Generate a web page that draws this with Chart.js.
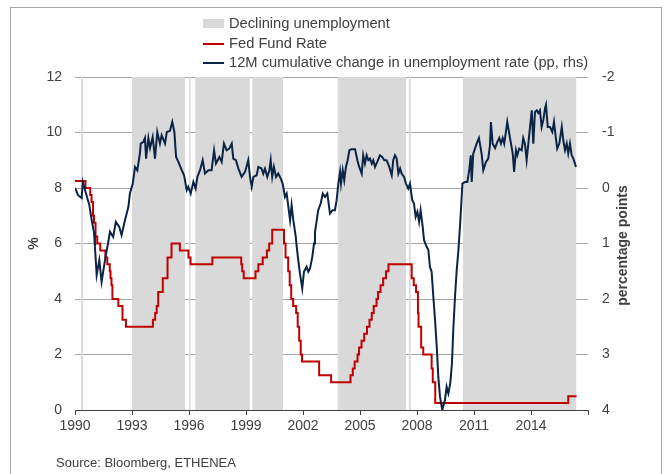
<!DOCTYPE html>
<html>
<head>
<meta charset="utf-8">
<script src="https://cdn.jsdelivr.net/npm/chart.js@4.4.1/dist/chart.umd.min.js"></script>
<style>
  body { margin: 0; background: #fff; font-family: "Liberation Sans", Arial, sans-serif; }
  #wrap { position: relative; width: 665px; height: 474px; overflow: hidden; }
  #frame { position: absolute; left: 10px; top: 7px; width: 652px; height: 480px; border: 1px solid #a6a6a6; box-sizing: border-box; }
  #chart { position: absolute; left: 0; top: 0; }
  .legend { position: absolute; left: 203px; font-size: 14.7px; color: #404040; line-height: 19.5px; }
  .legend div { position: relative; padding-left: 26px; height: 19.5px; white-space: nowrap; }
  .legend i { position: absolute; left: 0; width: 21px; }
  .box { top: 5px; height: 9px; background: #d9d9d9; }
  .ln { top: 9px; height: 2px; }
  #source { position: absolute; left: 56px; top: 455px; font-size: 13px; color: #404040; }
</style>
</head>
<body>
<div id="wrap">
  <div id="frame"></div>
  <canvas id="chart" width="665" height="474"></canvas>
  <div class="legend" style="top: 14px;">
    <div><i class="box"></i>Declining unemployment</div>
    <div><i class="ln" style="background:#c00000"></i>Fed Fund Rate</div>
    <div><i class="ln" style="background:#0b2445"></i>12M cumulative change in unemployment rate (pp, rhs)</div>
  </div>
  <div id="source">Source: Bloomberg, ETHENEA</div>
</div>
<script>
// Periods of declining unemployment (decimal years, start/end)
const declineStart = [1990.33, 1993.0, 1996.0, 1996.33, 1999.33, 2003.83, 2007.58, 2010.42]
const declineEnd   = [1990.42, 1995.79, 1996.08, 1999.2, 2000.95, 2007.42, 2007.67, 2016.38]

// Fed fund target rate, value from each date on (%)
const fedDates = [1990.0, 1990.55, 1990.8, 1990.87, 1990.95, 1991.0, 1991.08, 1991.17, 1991.33, 1991.6,
  1991.7, 1991.83, 1991.87, 1991.92, 1991.97, 1992.28, 1992.5, 1992.68, 1994.1, 1994.22,
  1994.3, 1994.38, 1994.62, 1994.87, 1995.08, 1995.52, 1995.97, 1996.08, 1997.23, 1998.75,
  1998.8, 1998.88, 1999.5, 1999.65, 1999.88, 2000.1, 2000.22, 2000.38, 2001.0, 2001.08,
  2001.22, 2001.3, 2001.38, 2001.48, 2001.64, 2001.72, 2001.8, 2001.88, 2001.95, 2002.85,
  2003.48, 2004.5, 2004.62, 2004.72, 2004.87, 2004.95, 2005.08, 2005.22, 2005.37, 2005.5,
  2005.62, 2005.72, 2005.87, 2005.95, 2006.08, 2006.22, 2006.37, 2006.5, 2007.72, 2007.83,
  2007.95, 2008.05, 2008.08, 2008.22, 2008.33, 2008.77, 2008.83, 2008.96, 2015.96, 2016.4]
const fedRates = [8.25, 8.0, 7.75, 7.5, 7.0, 6.75, 6.25, 6.0, 5.75, 5.5,
  5.25, 5.0, 4.75, 4.5, 4.0, 3.75, 3.25, 3.0, 3.25, 3.5,
  3.75, 4.25, 4.75, 5.5, 6.0, 5.75, 5.5, 5.25, 5.5, 5.25,
  5.0, 4.75, 5.0, 5.25, 5.5, 5.75, 6.0, 6.5, 6.0, 5.5,
  5.0, 4.5, 4.0, 3.75, 3.5, 3.0, 2.5, 2.0, 1.75, 1.25,
  1.0, 1.25, 1.5, 1.75, 2.0, 2.25, 2.5, 2.75, 3.0, 3.25,
  3.5, 3.75, 4.0, 4.25, 4.5, 4.75, 5.0, 5.25, 4.75, 4.5,
  4.25, 3.5, 3.0, 2.25, 2.0, 1.5, 1.0, 0.25, 0.5, 0.5]

// 12M cumulative change in unemployment rate (pp)
const unempDates = [1990.0, 1990.16, 1990.35, 1990.41, 1990.53, 1990.75, 1990.89, 1991.0, 1991.05, 1991.14,
  1991.28, 1991.4, 1991.58, 1991.67, 1991.74, 1991.84, 1992.01, 1992.15, 1992.33, 1992.45,
  1992.63, 1992.72, 1992.81, 1992.89, 1993.04, 1993.16, 1993.28, 1993.42, 1993.46, 1993.6,
  1993.68, 1993.74, 1993.86, 1993.95, 1994.09, 1994.21, 1994.33, 1994.47, 1994.56, 1994.74,
  1994.83, 1995.0, 1995.12, 1995.23, 1995.32, 1995.44, 1995.62, 1995.74, 1995.88, 1995.96,
  1996.09, 1996.23, 1996.35, 1996.44, 1996.58, 1996.72, 1996.84, 1997.02, 1997.19, 1997.32,
  1997.42, 1997.6, 1997.72, 1997.84, 1997.98, 1998.12, 1998.25, 1998.33, 1998.47, 1998.6,
  1998.77, 1998.95, 1999.12, 1999.21, 1999.3, 1999.39, 1999.56, 1999.65, 1999.82, 1999.91,
  2000.0, 2000.12, 2000.23, 2000.3, 2000.38, 2000.47, 2000.58, 2000.7, 2000.83, 2000.93,
  2001.05, 2001.14, 2001.23, 2001.32, 2001.4, 2001.49, 2001.62, 2001.67, 2001.75, 2001.84,
  2001.96, 2002.05, 2002.19, 2002.28, 2002.37, 2002.49, 2002.58, 2002.63, 2002.8, 2002.93,
  2003.04, 2003.16, 2003.28, 2003.42, 2003.56, 2003.68, 2003.77, 2003.86, 2003.95, 2004.0,
  2004.09, 2004.17, 2004.26, 2004.35, 2004.44, 2004.56, 2004.74, 2004.86, 2004.96, 2005.09,
  2005.17, 2005.26, 2005.35, 2005.44, 2005.53, 2005.62, 2005.7, 2005.79, 2005.91, 2006.05,
  2006.17, 2006.28, 2006.4, 2006.54, 2006.67, 2006.75, 2006.84, 2006.93, 2007.02, 2007.11,
  2007.19, 2007.32, 2007.42, 2007.54, 2007.63, 2007.75, 2007.84, 2007.93, 2008.02, 2008.11,
  2008.19, 2008.3, 2008.37, 2008.51, 2008.6, 2008.68, 2008.77, 2008.86, 2008.95, 2009.04,
  2009.12, 2009.21, 2009.33, 2009.47, 2009.56, 2009.65, 2009.75, 2009.84, 2009.91, 2010.0,
  2010.09, 2010.18, 2010.28, 2010.39, 2010.53, 2010.65, 2010.75, 2010.83, 2010.88, 2010.96,
  2011.14, 2011.26, 2011.4, 2011.49, 2011.63, 2011.75, 2011.84, 2011.89, 2011.98, 2012.11,
  2012.23, 2012.33, 2012.42, 2012.51, 2012.59, 2012.68, 2012.75, 2012.84, 2012.93, 2013.04,
  2013.11, 2013.21, 2013.28, 2013.38, 2013.51, 2013.59, 2013.68, 2013.77, 2013.86, 2013.95,
  2014.04, 2014.12, 2014.21, 2014.3, 2014.38, 2014.47, 2014.56, 2014.65, 2014.74, 2014.79,
  2014.88, 2015.0, 2015.12, 2015.21, 2015.3, 2015.38, 2015.49, 2015.62, 2015.7, 2015.79,
  2015.88, 2015.96, 2016.05, 2016.14, 2016.23, 2016.37]
const unempChange = [0.0, 0.13, 0.18, -0.11, 0.04, 0.3, 0.6, 0.8, 1.06, 1.57,
  1.3, 1.69, 1.3, 1.12, 1.0, 0.79, 0.88, 0.61, 0.7, 0.85,
  0.58, 0.46, 0.34, 0.1, -0.08, -0.38, -0.32, -0.63, -0.8, -0.83,
  -0.9, -0.53, -0.9, -0.72, -0.92, -0.53, -1.01, -0.8, -0.95, -0.8,
  -1.01, -1.03, -1.19, -1.01, -0.56, -0.47, -0.32, -0.23, 0.04, -0.02,
  0.1, -0.11, 0.01, -0.2, -0.32, -0.5, -0.26, -0.32, -0.32, -0.68,
  -0.44, -0.56, -0.47, -0.8, -0.68, -0.71, -0.8, -0.53, -0.5, -0.35,
  -0.2, -0.29, -0.5, -0.2, -0.02, -0.2, -0.23, -0.38, -0.35, -0.26,
  -0.35, -0.2, -0.32, -0.5, -0.2, -0.38, -0.2, -0.26, -0.17, -0.08,
  0.16, 0.1, 0.34, 0.58, 0.31, 0.58, 0.88, 1.06, 1.3, 1.54,
  1.81, 1.51, 1.42, 1.51, 1.45, 1.24, 1.0, 0.8, 0.4, 0.28,
  0.1, 0.16, 0.1, 0.46, 0.4, 0.4, 0.22, -0.08, -0.29, -0.08,
  -0.32, -0.14, -0.38, -0.5, -0.68, -0.7, -0.7, -0.5, -0.38, -0.26,
  -0.59, -0.44, -0.59, -0.5, -0.53, -0.44, -0.5, -0.38, -0.47, -0.59,
  -0.56, -0.5, -0.5, -0.38, -0.23, -0.5, -0.59, -0.53, -0.26, -0.35,
  -0.26, -0.2, -0.08, 0.01, -0.08, 0.22, 0.28, 0.52, 0.43, 0.61,
  0.4, 0.7, 0.94, 1.06, 1.12, 1.42, 1.51, 1.96, 2.38, 2.86,
  3.4, 3.76, 4.0, 3.82, 3.58, 3.7, 3.52, 3.16, 2.56, 1.96,
  1.48, 1.12, 0.6, -0.08, -0.11, -0.11, -0.32, -0.59, -0.11, -0.62,
  -0.8, -0.9, -0.62, -0.32, -0.47, -0.53, -0.77, -1.19, -0.8, -0.72,
  -0.83, -0.9, -0.8, -0.9, -0.8, -1.01, -1.19, -1.01, -0.83, -0.62,
  -0.29, -0.68, -0.59, -0.71, -0.68, -0.9, -0.8, -0.5, -0.8, -1.1,
  -1.4, -0.8, -1.37, -1.4, -1.35, -1.4, -1.1, -1.23, -1.44, -1.5,
  -1.1, -1.1, -1.01, -1.19, -0.92, -0.71, -0.8, -1.1, -0.86, -0.68,
  -0.8, -0.62, -0.8, -0.59, -0.53, -0.38]

const textColor = '#404040'
const gridColor = '#a6a6a6'

// grey bands behind the lines
const shadingPlugin = {
  id: 'shading',
  beforeDatasetsDraw(chart) {
    const { ctx, chartArea, scales } = chart
    ctx.save()
    ctx.fillStyle = '#d9d9d9'
    declineStart.forEach((start, i) => {
      const x0 = scales.x.getPixelForValue(start)
      const x1 = scales.x.getPixelForValue(declineEnd[i])
      ctx.fillRect(x0, chartArea.top, x1 - x0, chartArea.bottom - chartArea.top)
    })
    ctx.restore()
  }
}

// right axis title reads bottom-to-top like the left one
const rightTitlePlugin = {
  id: 'rightTitle',
  afterDraw(chart) {
    const { ctx, chartArea } = chart
    ctx.save()
    ctx.translate(623, (chartArea.top + chartArea.bottom) / 2 + 2)
    ctx.rotate(-Math.PI / 2)
    ctx.font = 'bold 14px "Liberation Sans", Arial, sans-serif'
    ctx.fillStyle = textColor
    ctx.textAlign = 'center'
    ctx.textBaseline = 'middle'
    ctx.fillText('percentage points', 0, 0)
    ctx.restore()
  }
}

const ctx = document.getElementById('chart').getContext('2d')
new Chart(ctx, {
  type: 'line',
  data: {
    datasets: [
      {
        label: '12M cumulative change in unemployment rate (pp, rhs)',
        data: unempDates.map((d, i) => ({ x: d, y: unempChange[i] })),
        yAxisID: 'y1',
        borderColor: '#0b2445',
        borderWidth: 2,
        pointRadius: 0,
        order: 0
      },
      {
        label: 'Fed Fund Rate',
        data: fedDates.map((d, i) => ({ x: d, y: fedRates[i] })),
        yAxisID: 'y',
        stepped: 'before',
        borderColor: '#c00000',
        borderWidth: 2,
        pointRadius: 0,
        order: 1
      }
    ]
  },
  options: {
    responsive: false,
    animation: false,
    devicePixelRatio: 1,
    layout: { padding: { top: 77, left: 0, right: 0, bottom: 0 } },
    plugins: {
      legend: { display: false },
      tooltip: { enabled: false }
    },
    scales: {
      x: {
        type: 'linear',
        min: 1990,
        max: 2017,
        afterFit: (scale) => { scale.height = 64 },
        ticks: {
          stepSize: 3,
          autoSkip: false,
          maxRotation: 0,
          padding: 3,
          color: textColor,
          font: { family: '"Liberation Sans", Arial, sans-serif', size: 14 },
          callback: (value) => value === 2017 ? '' : String(value)
        },
        grid: { drawOnChartArea: false, drawTicks: true, tickLength: 5, color: textColor },
        border: { display: true, color: textColor, width: 1 }
      },
      y: {
        position: 'left',
        min: 0,
        max: 12,
        afterFit: (scale) => { scale.width = 75 },
        ticks: {
          stepSize: 2,
          padding: 13,
          color: textColor,
          font: { family: '"Liberation Sans", Arial, sans-serif', size: 14 }
        },
        grid: { color: gridColor, drawTicks: false },
        border: { display: false },
        title: {
          display: true,
          text: '%',
          color: textColor,
          font: { family: '"Liberation Sans", Arial, sans-serif', size: 14, weight: 'bold' },
          padding: { top: 26, bottom: 0 }
        }
      },
      y1: {
        position: 'right',
        min: -2,
        max: 4,
        reverse: true,
        afterFit: (scale) => { scale.width = 77 },
        ticks: {
          stepSize: 1,
          padding: 14,
          color: textColor,
          font: { family: '"Liberation Sans", Arial, sans-serif', size: 14 },
          callback: (value) => String(value)
        },
        grid: { display: false, drawTicks: false },
        border: { display: false }
      }
    }
  },
  plugins: [shadingPlugin, rightTitlePlugin]
})
</script>
</body>
</html>
